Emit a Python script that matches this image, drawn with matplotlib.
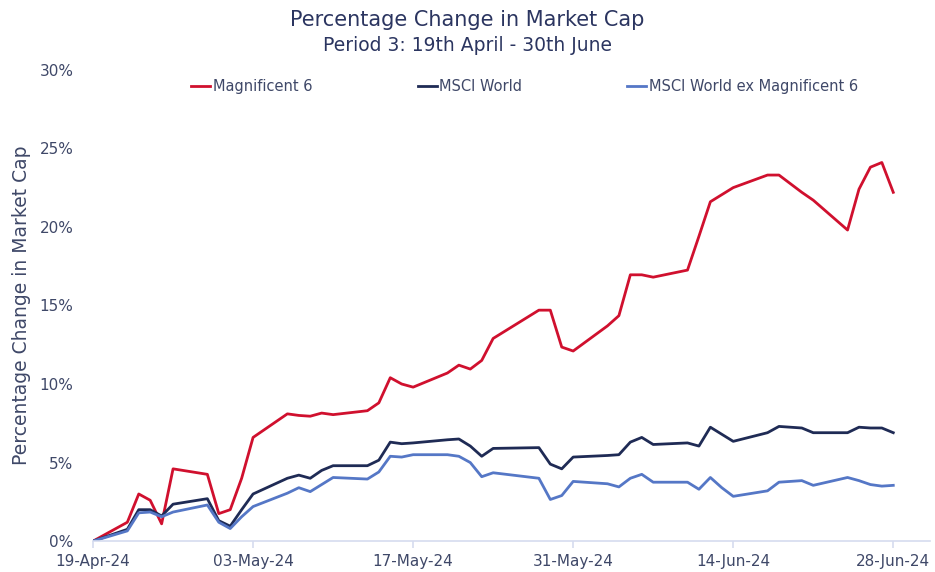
import pandas as pd
import matplotlib
matplotlib.use("Agg")
import matplotlib.pyplot as plt
import matplotlib.dates as mdates
from matplotlib.ticker import FuncFormatter

dates = ["2024-04-19", "2024-04-22", "2024-04-23", "2024-04-24", "2024-04-25", "2024-04-26",
         "2024-04-29", "2024-04-30", "2024-05-01", "2024-05-02", "2024-05-03",
         "2024-05-06", "2024-05-07", "2024-05-08", "2024-05-09", "2024-05-10",
         "2024-05-13", "2024-05-14", "2024-05-15", "2024-05-16", "2024-05-17",
         "2024-05-20", "2024-05-21", "2024-05-22", "2024-05-23", "2024-05-24",
         "2024-05-28", "2024-05-29", "2024-05-30", "2024-05-31",
         "2024-06-03", "2024-06-04", "2024-06-05", "2024-06-06", "2024-06-07",
         "2024-06-10", "2024-06-11", "2024-06-12", "2024-06-13", "2024-06-14",
         "2024-06-17", "2024-06-18", "2024-06-20", "2024-06-21",
         "2024-06-24", "2024-06-25", "2024-06-26", "2024-06-27", "2024-06-28"]

mag6 = [0, 1.2, 3.0, 2.6, 1.1, 4.6,
        4.25, 1.75, 2.0, 4.0, 6.6,
        8.1, 8.0, 7.95, 8.15, 8.05,
        8.3, 8.8, 10.4, 10.0, 9.8,
        10.7, 11.2, 10.95, 11.5, 12.9,
        14.7, 14.7, 12.35, 12.1,
        13.7, 14.35, 16.95, 16.95, 16.8,
        17.25, 19.4, 21.6, 22.05, 22.5,
        23.3, 23.3, 22.2, 21.7,
        19.8, 22.4, 23.8, 24.1, 22.2]

msci_world = [0, 0.75, 2.0, 2.0, 1.6, 2.35,
              2.7, 1.3, 0.95, 2.0, 3.0,
              4.0, 4.2, 4.0, 4.5, 4.8,
              4.8, 5.15, 6.3, 6.2, 6.25,
              6.45, 6.5, 6.05, 5.4, 5.9,
              5.95, 4.9, 4.6, 5.35,
              5.45, 5.5, 6.3, 6.6, 6.15,
              6.25, 6.05, 7.25, 6.8, 6.35,
              6.9, 7.3, 7.2, 6.9,
              6.9, 7.25, 7.2, 7.2, 6.9]

msci_ex = [0, 0.65, 1.8, 1.85, 1.55, 1.85,
           2.3, 1.2, 0.8, 1.55, 2.2,
           3.05, 3.4, 3.15, 3.6, 4.05,
           3.95, 4.4, 5.4, 5.35, 5.5,
           5.5, 5.4, 5.0, 4.1, 4.35,
           4.0, 2.65, 2.9, 3.8,
           3.65, 3.45, 4.0, 4.25, 3.75,
           3.75, 3.3, 4.05, 3.4, 2.85,
           3.2, 3.75, 3.85, 3.55,
           4.05, 3.85, 3.6, 3.5, 3.55]

tick_dates = ["2024-04-19", "2024-05-03", "2024-05-17", "2024-05-31", "2024-06-14", "2024-06-28"]

text_col = "#2B3560"
tick_col = "#3F4868"

x = pd.to_datetime(dates)

fig = plt.figure(figsize=(9.35, 5.72), dpi=100)
ax = fig.add_axes([0.0995, 0.054, 0.895, 0.824])

ax.plot(x, mag6, color="#D0102E", lw=2.0, label="Magnificent 6")
ax.plot(x, msci_world, color="#1F2B55", lw=2.0, label="MSCI World")
ax.plot(x, msci_ex, color="#5577C6", lw=2.0, label="MSCI World ex Magnificent 6")

ax.set_ylim(0, 30)
ax.set_yticks(range(0, 31, 5))
ax.yaxis.set_major_formatter(FuncFormatter(lambda v, p: f"{v:.0f}%"))
ax.set_xlim(pd.Timestamp("2024-04-19"), pd.Timestamp("2024-04-19") + pd.Timedelta(days=73.2))
ax.set_xticks(pd.to_datetime(tick_dates))
ax.xaxis.set_major_formatter(mdates.DateFormatter("%d-%b-%y"))

for s in ["top", "right", "left"]:
    ax.spines[s].set_visible(False)
ax.spines["bottom"].set_color("#D5DCEF")
ax.spines["bottom"].set_linewidth(1.2)
ax.tick_params(axis="x", colors="#D5DCEF", length=5, width=1.2, labelcolor=tick_col,
               labelsize=11, pad=4)
ax.tick_params(axis="y", length=0, labelcolor=tick_col, labelsize=11, pad=14)

ax.set_ylabel("Percentage Change in Market Cap", color=tick_col, fontsize=13.5, labelpad=6)

fig.text(0.5, 0.965, "Percentage Change in Market Cap", ha="center", va="center",
         fontsize=15, color=text_col)
fig.text(0.5, 0.92, "Period 3: 19th April - 30th June", ha="center", va="center",
         fontsize=13.5, color=text_col)

leg = ax.legend(loc="center", bbox_to_anchor=(0.516, 0.964), ncol=3, frameon=False,
                fontsize=10.5, handlelength=1.3, handletextpad=0.2, columnspacing=7.2)
for t in leg.get_texts():
    t.set_color(tick_col)

fig.savefig("out.png", dpi=100)
